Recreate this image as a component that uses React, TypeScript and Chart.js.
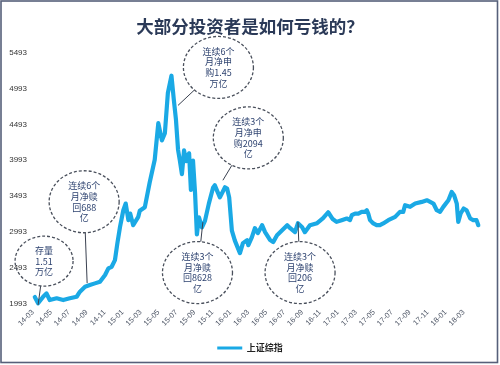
import React, { useEffect, useRef } from 'react';
import { Chart, registerables } from 'chart.js';

Chart.register(...registerables);

const TITLE = '大部分投资者是如何亏钱的？';
const SERIES_NAME = '上证综指';

const dates = [
  '2014-03-07', '2014-03-18', '2014-04-05', '2014-04-16', '2014-04-27', '2014-05-20', '2014-06-12', '2014-07-04',
  '2014-07-27', '2014-08-08', '2014-08-25', '2014-09-11', '2014-09-28', '2014-10-15', '2014-11-02', '2014-11-13',
  '2014-11-24', '2014-12-05', '2014-12-13', '2014-12-22', '2015-01-03', '2015-01-11', '2015-01-20', '2015-01-26',
  '2015-02-06', '2015-02-23', '2015-02-28', '2015-03-15', '2015-04-01', '2015-04-18', '2015-04-30', '2015-05-12',
  '2015-05-22', '2015-06-02', '2015-06-14', '2015-06-22', '2015-06-29', '2015-07-06', '2015-07-12', '2015-07-19',
  '2015-07-26', '2015-08-03', '2015-08-13', '2015-08-19', '2015-08-26', '2015-09-03', '2015-09-09', '2015-09-16',
  '2015-09-26', '2015-10-06', '2015-10-19', '2015-11-03', '2015-11-09', '2015-11-16', '2015-11-26', '2015-12-13',
  '2015-12-20', '2015-12-27', '2016-01-06', '2016-01-16', '2016-02-03', '2016-02-13', '2016-02-27', '2016-03-01',
  '2016-03-13', '2016-03-23', '2016-04-03', '2016-04-17', '2016-04-27', '2016-05-14', '2016-05-24', '2016-06-07',
  '2016-06-24', '2016-07-11', '2016-07-21', '2016-08-07', '2016-08-17', '2016-08-31', '2016-09-10', '2016-09-27',
  '2016-10-21', '2016-11-11', '2016-11-28', '2016-12-12', '2016-12-26', '2017-01-13', '2017-01-30', '2017-02-11',
  '2017-02-17', '2017-02-28', '2017-03-09', '2017-03-20', '2017-04-01', '2017-04-07', '2017-04-12', '2017-04-18',
  '2017-04-29', '2017-05-10', '2017-05-21', '2017-06-02', '2017-06-19', '2017-07-12', '2017-07-28', '2017-08-09',
  '2017-08-15', '2017-09-02', '2017-09-19', '2017-10-11', '2017-10-28', '2017-11-09', '2017-11-20', '2017-12-01',
  '2017-12-12', '2017-12-23', '2018-01-10', '2018-01-21', '2018-01-29', '2018-02-08', '2018-02-13', '2018-02-21',
  '2018-03-01', '2018-03-11', '2018-03-23', '2018-04-03', '2018-04-14', '2018-04-20',
];

const values = [
  2090, 2003, 2094, 2141, 2048, 2072, 2048, 2072,
  2094, 2164, 2233, 2257, 2280, 2303, 2396, 2489,
  2511, 2604, 2836, 3067, 3298, 3391, 3160, 3252,
  3090, 3206, 3290, 3340, 3680, 4000, 4510, 4270,
  4370, 4930, 5170, 4830, 4560, 4140, 3990, 3800,
  4130, 3980, 4090, 3580, 3990, 3530, 2960, 3200,
  3060, 3150, 3390, 3610, 3645, 3575, 3477, 3617,
  3600, 3477, 3015, 2875, 2701, 2840, 2882, 2812,
  2924, 3048, 2979, 3090, 2993, 2882, 2854, 2951,
  3020, 3090, 3048, 2993, 3118, 3062, 2993, 3090,
  3118, 3187, 3270, 3180, 3136, 3160, 3183, 3160,
  3229, 3252, 3252, 3275, 3275, 3298, 3252, 3160,
  3114, 3090, 3090, 3114, 3160, 3206, 3275, 3275,
  3368, 3345, 3391, 3414, 3437, 3414, 3391, 3298,
  3275, 3345, 3437, 3553, 3507, 3391, 3136, 3252,
  3322, 3298, 3183, 3160, 3160, 3090,
];

const xTickLabels = [
  '14-03', '14-05', '14-07', '14-09', '14-11',
  '15-01', '15-03', '15-05', '15-07', '15-09', '15-11',
  '16-01', '16-03', '16-05', '16-07', '16-09', '16-11',
  '17-01', '17-03', '17-05', '17-07', '17-09', '17-11',
  '18-01', '18-03',
];

const yTickValues = [1993, 2493, 2993, 3493, 3993, 4493, 4993, 5493];

const calloutTexts = [
  ['存量', '1.51', '万亿'],
  ['连续6个', '月净赎', '回688', '亿'],
  ['连续6个', '月净申', '购1.45', '万亿'],
  ['连续3个', '月净申', '购2094', '亿'],
  ['连续3个', '月净赎', '回8628', '亿'],
  ['连续3个', '月净赎', '回206', '亿'],
];
const calloutCenterDates = ['2014-04-08', '2014-08-22', '2015-11-21', '2016-03-01', '2015-09-11', '2016-08-24'];
const calloutCenterValues = [2590, 3416, 5285, 4305, 2430, 2430];
const calloutAnchorDates = ['2014-03-18', '2014-09-02', '2015-07-06', '2015-12-06', '2015-09-29', '2016-08-17'];
const calloutAnchorValues = [1980, 2284, 4757, 3715, 3132, 3132];

const LINE_COLOR = '#1aa9e5';
const NAVY = '#2b3a58';

function monthIndex(d: string): number {
  const [y, m, dd] = d.split('-').map(Number);
  return (y - 2014) * 12 + (m - 3) + (dd - 1) / 30;
}
function labelIndex(l: string): number {
  const [yy, mm] = l.split('-').map(Number);
  return (yy - 14) * 12 + (mm - 3);
}

const framePlugin = {
  id: 'frameAndCallouts',
  beforeDraw(chart: any) {
    const ctx = chart.ctx;
    ctx.save();
    ctx.fillStyle = '#ffffff';
    ctx.fillRect(0, 0, chart.width, chart.height);
    ctx.restore();
  },
  afterDatasetsDraw(chart: any) {
    const ctx = chart.ctx;
    const xs = chart.scales.x;
    const ys = chart.scales.y;
    ctx.save();
    calloutTexts.forEach((lines, i) => {
      const cx = xs.getPixelForValue(monthIndex(calloutCenterDates[i]));
      const cy = ys.getPixelForValue(calloutCenterValues[i]);
      const ax = xs.getPixelForValue(monthIndex(calloutAnchorDates[i]));
      const ay = ys.getPixelForValue(calloutAnchorValues[i]);
      const rx = lines.length === 3 ? 29 : 35;
      const ry = lines.length === 3 ? 25 : 31;
      const dx = ax - cx;
      const dy = ay - cy;
      const t = 1 / Math.sqrt((dx * dx) / (rx * rx) + (dy * dy) / (ry * ry));
      const sx = cx + dx * t;
      const sy = cy + dy * t;
      ctx.setLineDash([]);
      ctx.strokeStyle = '#3a4150';
      ctx.lineWidth = 1;
      ctx.beginPath();
      ctx.moveTo(sx, sy);
      ctx.lineTo(ax, ay);
      ctx.stroke();
      ctx.beginPath();
      ctx.ellipse(cx, cy, rx, ry, 0, 0, Math.PI * 2);
      ctx.setLineDash([3, 2]);
      ctx.strokeStyle = '#4a505c';
      ctx.lineWidth = 1.3;
      ctx.stroke();
      ctx.setLineDash([]);
      ctx.fillStyle = '#2e4370';
      ctx.font = '9px "Noto Sans CJK SC", sans-serif';
      ctx.textAlign = 'center';
      ctx.textBaseline = 'middle';
      const lh = 10.8;
      const startY = cy - ((lines.length - 1) * lh) / 2;
      lines.forEach((ln, j) => ctx.fillText(ln, cx, startY + j * lh));
    });
    ctx.restore();
  },
  afterDraw(chart: any) {
    const ctx = chart.ctx;
    ctx.save();
    ctx.strokeStyle = '#56607a';
    ctx.lineWidth = 1.6;
    ctx.strokeRect(1, 1, 496.5, 361.5);
    ctx.restore();
  },
};

export default function App() {
  const canvasRef = useRef<HTMLCanvasElement | null>(null);

  useEffect(() => {
    if (!canvasRef.current) return;
    const data = dates.map((d, i) => ({ x: monthIndex(d), y: values[i] }));
    const chart = new Chart(canvasRef.current, {
      type: 'line',
      data: {
        datasets: [
          {
            label: SERIES_NAME,
            data,
            borderColor: LINE_COLOR,
            backgroundColor: LINE_COLOR,
            borderWidth: 4.2,
            pointRadius: 0,
            tension: 0,
            borderJoinStyle: 'round',
            borderCapStyle: 'round',
            clip: 6,
          } as any,
        ],
      },
      options: {
        animation: false,
        responsive: true,
        maintainAspectRatio: false,
        layout: { padding: { left: 0, right: 0, top: 0, bottom: 2.5 } },
        plugins: {
          title: {
            display: true,
            text: TITLE,
            color: NAVY,
            font: { family: '"Noto Sans CJK SC", sans-serif', size: 17.5, weight: 'bold' },
            padding: { top: 15.5, bottom: 16 },
          },
          legend: {
            position: 'bottom',
            labels: {
              boxWidth: 25,
              boxHeight: 3,
              padding: 10,
              color: '#222222',
              font: { family: '"Noto Sans CJK SC", sans-serif', size: 9, weight: 'bold' },
              generateLabels: (c: any) =>
                (Chart.defaults.plugins.legend.labels as any).generateLabels(c).map((l: any) => ({
                  ...l,
                  lineWidth: 0,
                  strokeStyle: 'rgba(0,0,0,0)',
                })),
            },
          },
          tooltip: { enabled: false },
        },
        scales: {
          x: {
            type: 'linear',
            min: 0,
            max: monthIndex(dates[dates.length - 1]),
            grid: { display: false, drawTicks: false },
            border: { display: false },
            afterBuildTicks: (s: any) => {
              s.ticks = xTickLabels.map((l) => ({ value: labelIndex(l) }));
            },
            afterFit: (s: any) => {
              s.height = 29.5;
            },
            ticks: {
              autoSkip: false,
              minRotation: 45,
              maxRotation: 45,
              padding: 4,
              color: '#4e5666',
              font: { family: '"Liberation Sans", Arial, sans-serif', size: 7.5 },
              callback: (_v: any, i: number) => xTickLabels[i],
            },
          },
          y: {
            type: 'linear',
            min: yTickValues[0],
            max: yTickValues[yTickValues.length - 1],
            grid: { display: false, drawTicks: false },
            border: { display: false },
            afterBuildTicks: (s: any) => {
              s.ticks = yTickValues.map((v) => ({ value: v }));
            },
            afterFit: (s: any) => {
              s.width = 33;
            },
            ticks: {
              padding: 6,
              color: '#333333',
              font: { family: '"Liberation Sans", Arial, sans-serif', size: 8 },
              callback: (v: any) => String(v),
            },
          },
          yRight: {
            type: 'linear',
            position: 'right',
            display: true,
            grid: { display: false, drawTicks: false },
            border: { display: false },
            ticks: { display: false },
            afterFit: (s: any) => {
              s.width = 21.7;
            },
          },
        },
      } as any,
      plugins: [framePlugin],
    });
    return () => chart.destroy();
  }, []);

  return (
    <div style={{ position: 'absolute', left: 0, top: 0, width: 500, height: 365, background: '#fff' }}>
      <canvas ref={canvasRef} />
    </div>
  );
}
